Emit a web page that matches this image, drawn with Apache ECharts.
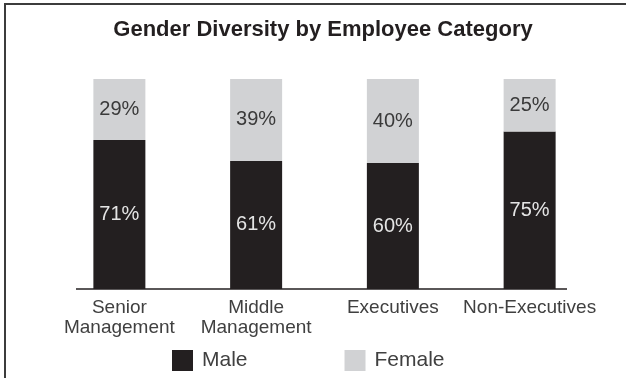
<!DOCTYPE html>
<html>
<head>
<meta charset="utf-8">
<style>
  html, body { margin: 0; padding: 0; background: #ffffff; }
  #chart { width: 626px; height: 378px; }
</style>
<script src="https://cdn.jsdelivr.net/npm/echarts@6/dist/echarts.min.js"></script>
</head>
<body>
<div id="chart"></div>
<script>
// Share of male / female employees in each category (percent)
const categories = ['Senior\nManagement', 'Middle\nManagement', 'Executives', 'Non-Executives'];
const maleShare = [71, 61, 60, 75];
const femaleShare = [29, 39, 40, 25];
const seriesNames = ['Male', 'Female'];

const FONT = '"Liberation Sans", Arial, Helvetica, sans-serif';
const DARK = '#231f20';
const LIGHT = '#d1d2d4';

const chart = echarts.init(document.getElementById('chart'), null, { renderer: 'canvas' });

chart.setOption({
  animation: false,
  backgroundColor: '#ffffff',
  title: {
    text: 'Gender Diversity by Employee Category',
    left: 318,
    top: 14,
    textAlign: 'center',
    textStyle: { fontFamily: FONT, fontSize: 22, fontWeight: 'bold', color: '#231f20' }
  },
  legend: {
    data: seriesNames,
    left: 167,
    top: 345,
    itemWidth: 21,
    itemHeight: 21,
    itemGap: 97,
    icon: 'rect',
    textStyle: { fontFamily: FONT, fontSize: 21, color: '#404040', padding: [0, 0, 0, 4] }
  },
  grid: { left: 51, right: 28, top: 79, bottom: 89, containLabel: false },
  xAxis: {
    type: 'category',
    data: categories,
    axisLine: { show: false },
    axisTick: { show: false },
    axisLabel: {
      interval: 0,
      margin: 9,
      fontFamily: FONT,
      fontSize: 19,
      lineHeight: 20,
      color: '#404040'
    }
  },
  yAxis: {
    type: 'value',
    min: 0,
    max: 100,
    show: false,
    splitLine: { show: false }
  },
  series: [
    {
      name: seriesNames[0],
      type: 'bar',
      stack: 'share',
      barWidth: 52,
      data: maleShare,
      itemStyle: { color: DARK },
      label: {
        show: true,
        position: 'inside',
        formatter: '{c}%',
        fontFamily: FONT,
        fontSize: 20,
        color: '#e4e4e4'
      }
    },
    {
      name: seriesNames[1],
      type: 'bar',
      stack: 'share',
      barWidth: 52,
      data: femaleShare,
      itemStyle: { color: LIGHT },
      label: {
        show: true,
        position: 'inside',
        formatter: '{c}%',
        fontFamily: FONT,
        fontSize: 20,
        color: '#3a3a3a'
      }
    }
  ],
  graphic: [
    // outer frame (runs off the right and bottom edges)
    {
      type: 'rect',
      shape: { x: 5, y: 4, width: 660, height: 420 },
      style: { fill: null, stroke: '#3c3c3c', lineWidth: 2 },
      silent: true
    },
    // baseline under the bars
    {
      type: 'line',
      shape: { x1: 76, y1: 289, x2: 567, y2: 289 },
      style: { stroke: DARK, lineWidth: 1.5 },
      silent: true
    }
  ]
});
</script>
</body>
</html>
